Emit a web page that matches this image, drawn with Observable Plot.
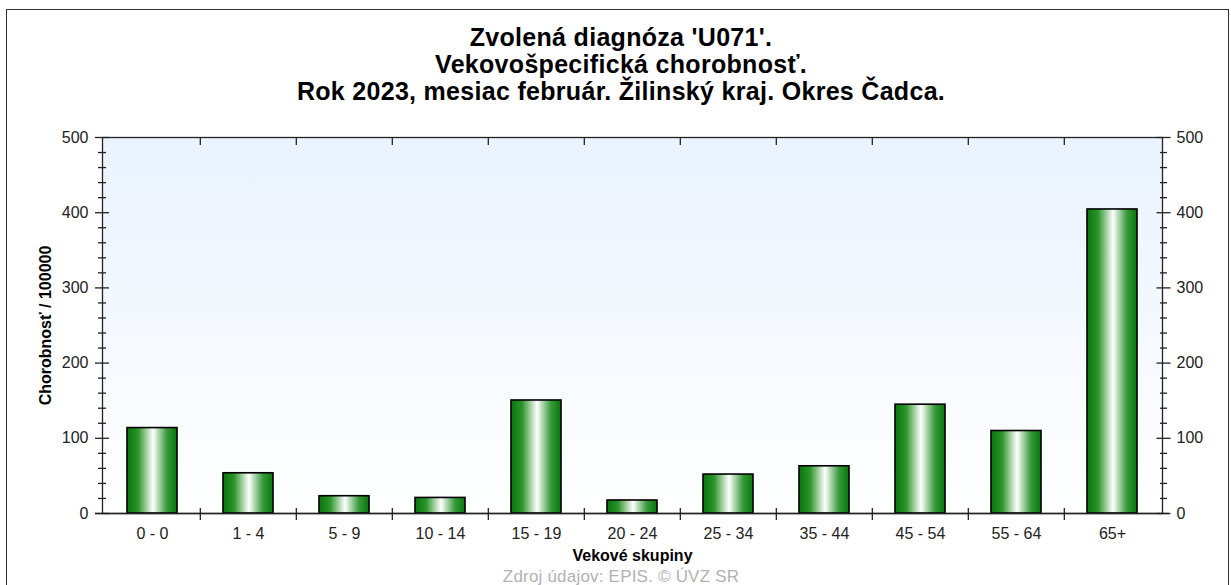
<!DOCTYPE html>
<html>
<head>
<meta charset="utf-8">
<script src="https://cdn.jsdelivr.net/npm/d3@7"></script>
<script src="https://cdn.jsdelivr.net/npm/@observablehq/plot@0.6"></script>
<style>
  html, body { margin: 0; padding: 0; background: #fff; }
  body { width: 1231px; height: 585px; position: relative; overflow: hidden; font-family: Arial, "Liberation Sans", sans-serif; }
  #frame { position: absolute; left: 6px; top: 9px; width: 1223px; height: 620px; border: 1.5px solid #333; box-sizing: border-box; z-index: 0; }
  #title { position: absolute; left: 0; top: 24px; width: 1242px; text-align: center; font-weight: bold; font-size: 25px; letter-spacing: 0.3px; line-height: 27px; color: #000; z-index: 2; }
  #chart { position: absolute; left: 0; top: 100px; z-index: 1; }
  #caption { position: absolute; left: 0; top: 567px; width: 1242px; text-align: center; font-weight: normal; font-size: 17px; letter-spacing: 0.2px; color: #b2b2b2; z-index: 2; }
</style>
</head>
<body>
<div id="frame"></div>
<div id="title"></div>
<div id="chart"></div>
<div id="caption"></div>
<script>
// ---- data ----
const titleLines = [
  "Zvolená diagnóza 'U071'.",
  "Vekovošpecifická chorobnosť.",
  "Rok 2023, mesiac február. Žilinský kraj. Okres Čadca."
];
const ageGroups = ["0 - 0", "1 - 4", "5 - 9", "10 - 14", "15 - 19", "20 - 24", "25 - 34", "35 - 44", "45 - 54", "55 - 64", "65+"];
const morbidity = [113.6, 53.5, 23.0, 20.7, 150.3, 17.3, 51.8, 62.8, 144.7, 109.7, 404.3];
const yMajorTicks = [0, 100, 200, 300, 400, 500];
const yMinorTicks = [20, 40, 60, 80, 120, 140, 160, 180, 220, 240, 260, 280, 320, 340, 360, 380, 420, 440, 460, 480];
const xLabel = "Vekové skupiny";
const yLabel = "Chorobnosť / 100000";
const caption = "Zdroj údajov: EPIS. © ÚVZ SR";

// ---- layout ----
const W = 1231, H = 485;
const mL = 102, mR = 69, mT = 37, mB = 72;
const bw = (W - mL - mR) / ageGroups.length;

document.getElementById("title").innerHTML = titleLines.map(t => `<div>${t}</div>`).join("");
document.getElementById("caption").textContent = caption;

const data = ageGroups.map((g, i) => ({group: g, value: morbidity[i]}));
const ink = "#222";

const svg = Plot.plot({
  width: W, height: H,
  marginLeft: mL, marginRight: mR, marginTop: mT, marginBottom: mB,
  style: {background: "transparent", fontFamily: "Arial, 'Liberation Sans', sans-serif", fontSize: "16px", color: ink},
  x: {domain: ageGroups, padding: 0},
  y: {domain: [0, 500]},
  marks: [
    Plot.frame({fill: "url(#bgGrad)", stroke: ink, strokeWidth: 1.3}),
    Plot.barY(data, {x: "group", y: "value", fill: "url(#barGrad)", stroke: "#000", strokeWidth: 1.6, insetLeft: 23, insetRight: 23}),
    // left y axis
    Plot.axisY({anchor: "left", ticks: yMajorTicks, tickSize: 14, dx: 7, fill: "none", label: null, stroke: ink, strokeWidth: 1.3}),
    Plot.axisY({anchor: "left", ticks: yMinorTicks, tickSize: 8, dx: 4, fill: "none", label: null, stroke: ink, strokeWidth: 1.3}),
    Plot.axisY({anchor: "left", ticks: yMajorTicks, tickSize: 0, tickPadding: 14, label: null, fill: ink}),
    Plot.axisY({anchor: "left", ticks: [], tickSize: 0, label: yLabel, labelAnchor: "center", labelArrow: "none", labelOffset: 63, fontWeight: "bold", fontSize: 16, fill: "#000"}),
    // right y axis
    Plot.axisY({anchor: "right", ticks: yMajorTicks, tickSize: 14, dx: -6.5, fill: "none", label: null, stroke: ink, strokeWidth: 1.3}),
    Plot.axisY({anchor: "right", ticks: yMinorTicks, tickSize: 7, dx: -3, fill: "none", label: null, stroke: ink, strokeWidth: 1.3}),
    Plot.axisY({anchor: "right", ticks: yMajorTicks, tickSize: 0, tickPadding: 14, label: null, fill: ink}),
    // x axis
    Plot.axisX({anchor: "bottom", ticks: ageGroups.slice(1), tickSize: 12, dx: -bw / 2, dy: -5, fill: "none", label: null, stroke: ink, strokeWidth: 1.3}),
    Plot.axisX({anchor: "top", ticks: ageGroups.slice(1), tickSize: 7, dx: -bw / 2, dy: 7, fill: "none", label: null, stroke: ink, strokeWidth: 1.3}),
    Plot.axisX({anchor: "bottom", ticks: ageGroups, tickSize: 0, tickPadding: 14, label: null, fill: ink}),
    Plot.axisX({anchor: "bottom", ticks: [], tickSize: 0, label: xLabel, labelAnchor: "center", labelArrow: "none", labelOffset: 47, fontWeight: "bold", fontSize: 16, fill: "#000"}),
    Plot.ruleY([0], {stroke: ink, strokeWidth: 1.5, insetLeft: -7, insetRight: -7})
  ]
});

// gradients
const defs = d3.select(svg).insert("defs", ":first-child");
const bg = defs.append("linearGradient").attr("id", "bgGrad").attr("x1", 0).attr("y1", 0).attr("x2", 0).attr("y2", 1);
bg.append("stop").attr("offset", "0%").attr("stop-color", "#eaf3ff");
bg.append("stop").attr("offset", "100%").attr("stop-color", "#ffffff");
const bar = defs.append("linearGradient").attr("id", "barGrad").attr("x1", 0).attr("y1", 0).attr("x2", 1).attr("y2", 0);
bar.append("stop").attr("offset", "0%").attr("stop-color", "#0a760a");
bar.append("stop").attr("offset", "22%").attr("stop-color", "#2a942a");
bar.append("stop").attr("offset", "52%").attr("stop-color", "#ffffff");
bar.append("stop").attr("offset", "80%").attr("stop-color", "#36993a");
bar.append("stop").attr("offset", "100%").attr("stop-color", "#0a760a");

document.getElementById("chart").appendChild(svg);
</script>
</body>
</html>
